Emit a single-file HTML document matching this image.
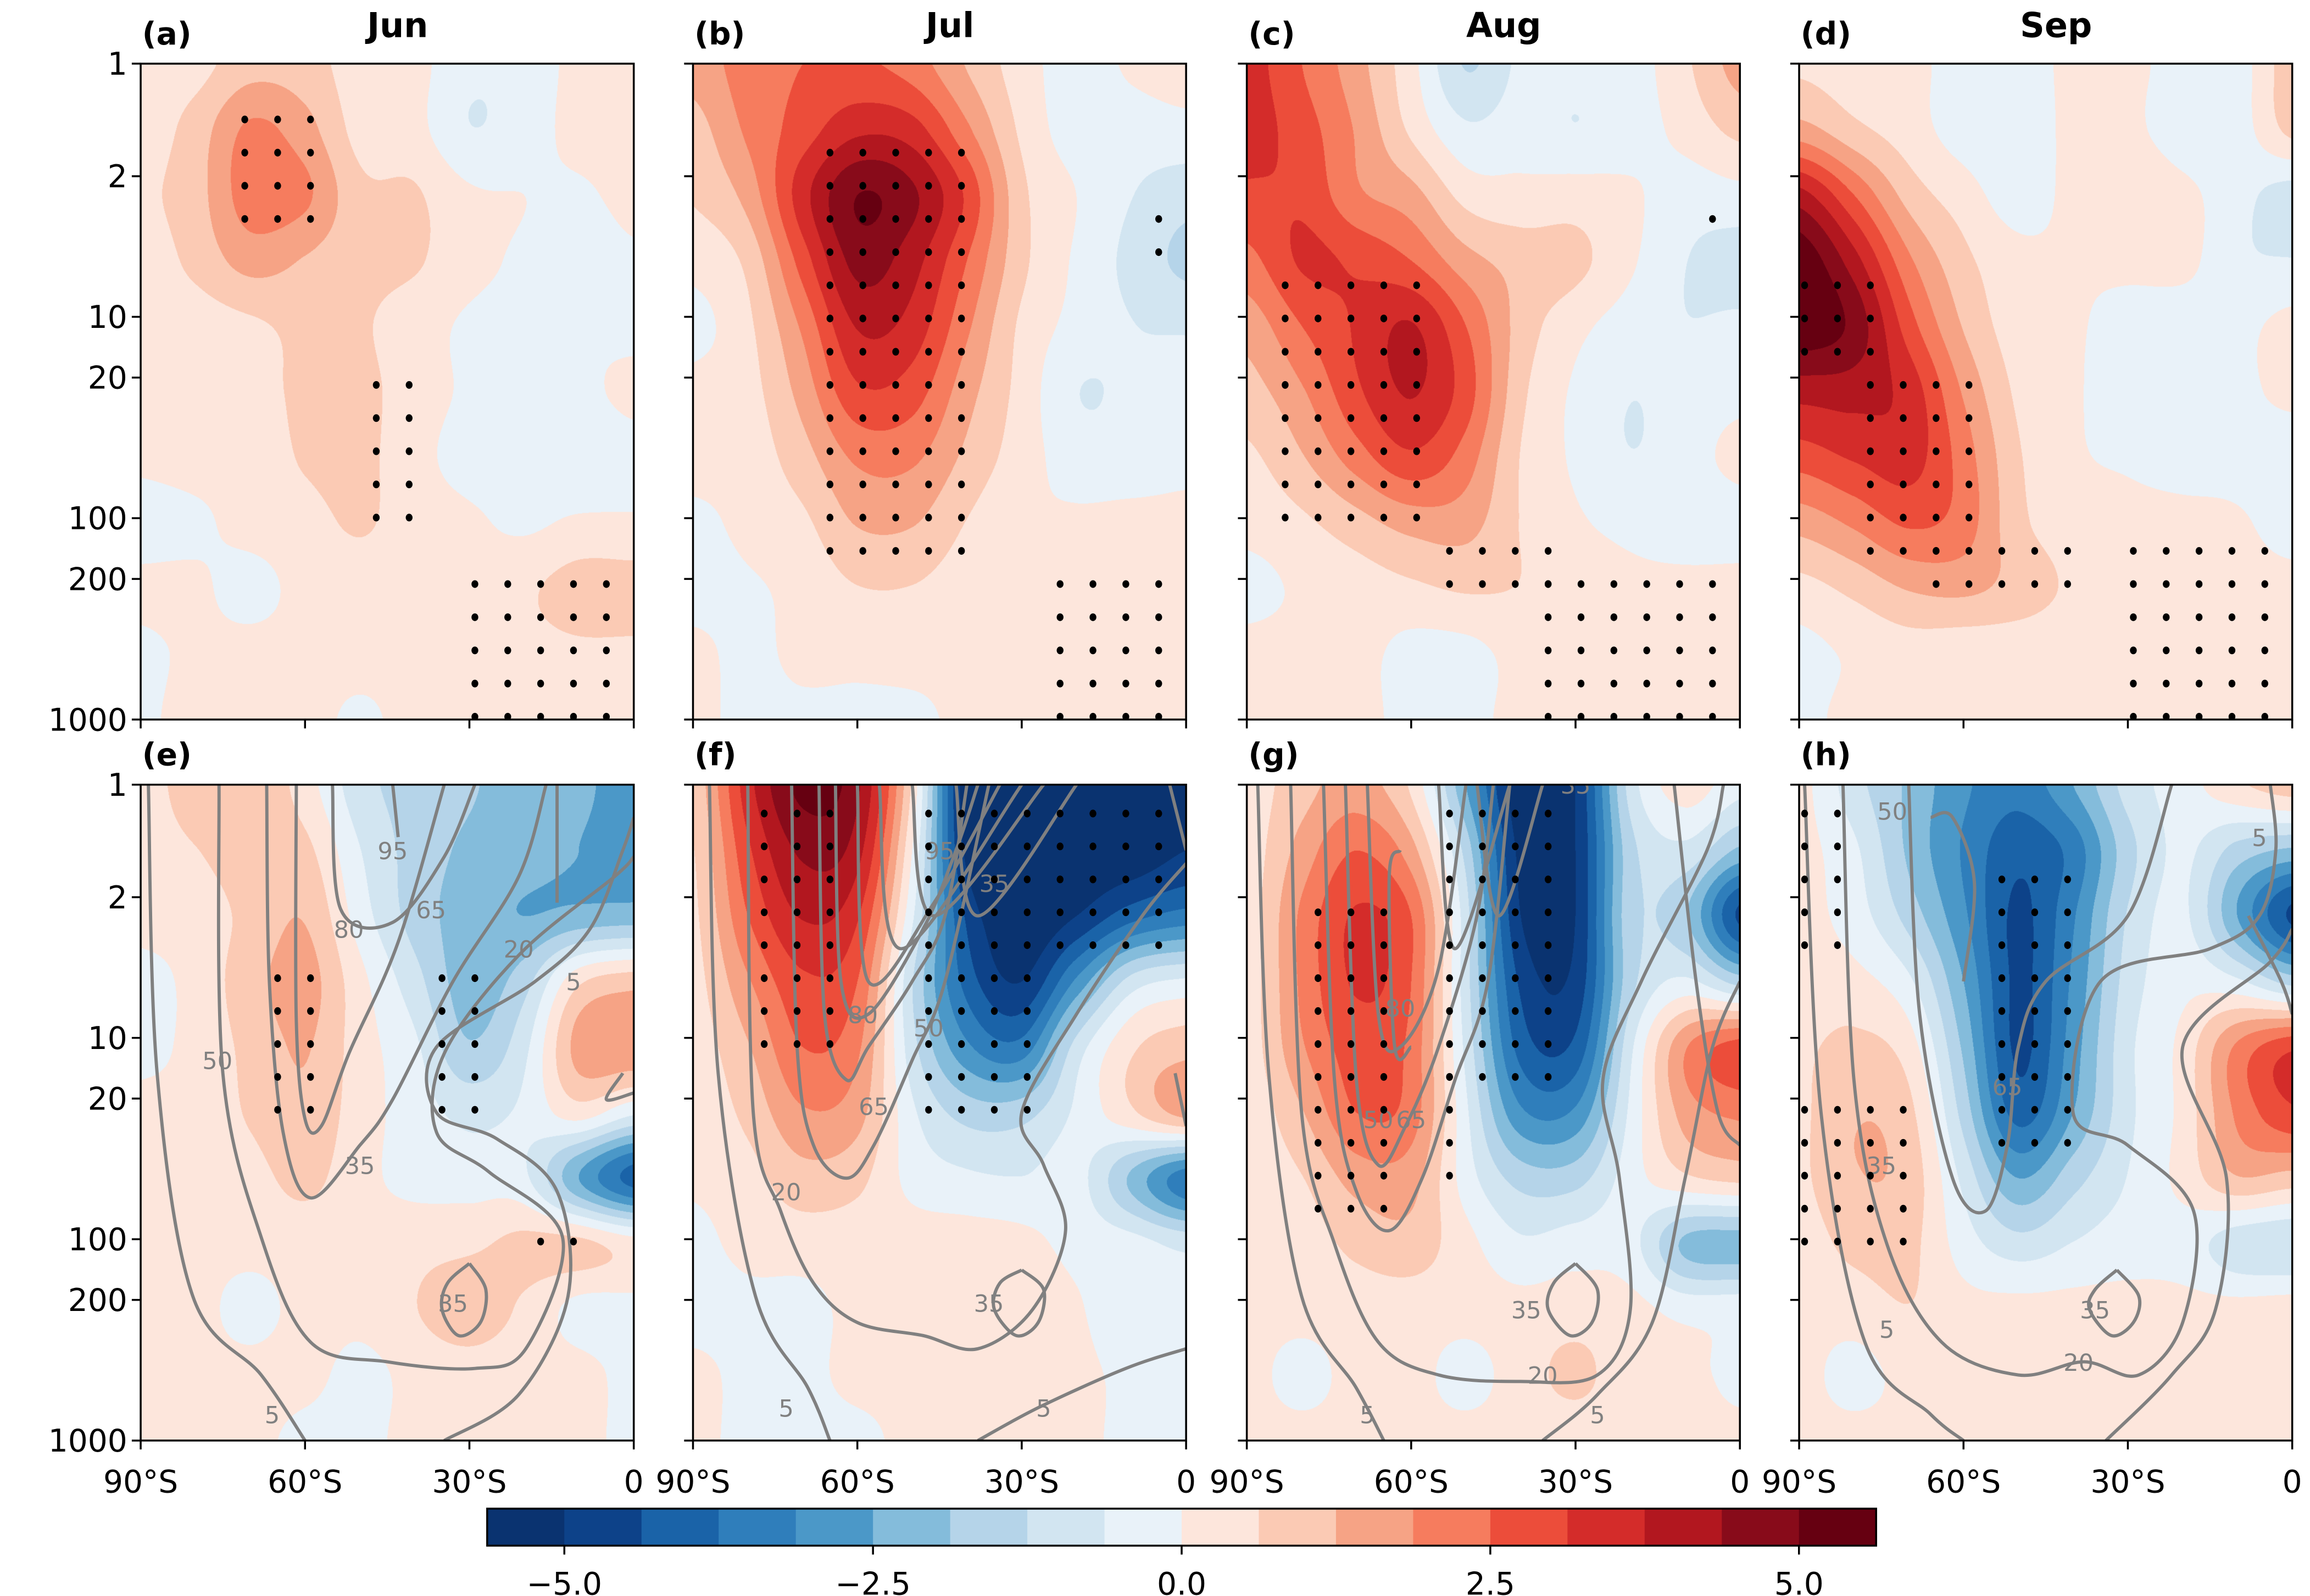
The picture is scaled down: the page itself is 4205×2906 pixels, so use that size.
<!DOCTYPE html>
<html><head><meta charset="utf-8">
<style>
html,body{margin:0;padding:0;background:#fff;overflow:hidden}
#root{position:absolute;left:0;top:0;width:1560px;height:1078px;transform-origin:0 0;transform:scale(2.69551,2.69573);font-family:"DejaVu Sans","Liberation Sans",sans-serif}
canvas{position:absolute}
svg{position:absolute;left:0;top:0}
</style></head>
<body>
<div id="root"></div>
<script>
// ---------- data ----------
const months = ["Jun","Jul","Aug","Sep"];
const panelLetters = ["(a)","(b)","(c)","(d)","(e)","(f)","(g)","(h)"];
const latTicks = [90,60,30,0];
const latTickLabels = ["90°S","60°S","30°S","0"];
const pTicks = [1,2,10,20,100,200,1000];
const cbarTicks = [-5,-2.5,0,2.5,5];
const cbarTickLabels = ["\u22125.0","\u22122.5","0.0","2.5","5.0"];
const levelStep = 0.625;
const colors = ['#0a3370','#0d4289','#1a63a8','#2f7ebb','#4b98c8','#84bcdb','#b5d4e9','#d2e5f1','#e9f2f9','#fde6dc','#fbcab4','#f6a385','#f67c5e','#ec4d3a','#d42c2a','#b2171f','#880b1a','#660011'];
// grids: 11 rows (top->bottom) x 10 cols (90S -> 0)
const gridA = [[0.3,0.4,1.0,0.9,0.3,0.2,-0.5,-0.4,0.2,0.3],[0.3,0.9,2.0,1.5,0.4,0.2,-0.6,-0.3,0.2,0.3],[0.5,1.0,2.2,2.0,0.8,0.7,0.1,0.0,-0.1,0.2],[0.3,0.8,1.5,1.2,0.8,0.7,0.2,-0.1,-0.3,-0.1],[0.3,0.3,0.5,0.8,0.7,0.3,-0.1,-0.2,-0.1,-0.2],[0.2,0.2,0.3,0.8,0.8,0.3,-0.1,-0.3,-0.2,0.2],[0.1,0.2,0.2,0.7,0.8,0.2,-0.2,-0.2,-0.5,-0.3],[-0.2,-0.1,0.2,0.4,0.7,0.3,0.1,-0.1,0.1,0.1],[0.1,0.1,-0.2,0.2,0.3,0.3,0.2,0.5,0.9,0.9],[-0.1,0.1,0.2,0.2,0.2,0.2,0.3,0.4,0.5,0.5],[-0.1,0.2,0.2,0.2,-0.1,0.2,0.2,0.2,0.3,0.3]];
const gridB = [[1.5,2.2,2.5,2.6,2.2,1.2,0.3,-0.3,0.1,0.3],[1.0,2.0,2.8,3.6,3.4,2.0,0.5,-0.3,-0.3,-0.2],[0.7,1.5,3.5,5.0,4.5,3.0,0.8,0.0,-0.6,-1.0],[0.2,0.8,2.8,4.6,4.0,2.5,0.8,-0.1,-0.8,-1.4],[-0.2,0.5,2.0,3.8,3.5,2.0,0.5,-0.2,-0.6,-0.7],[0.2,0.4,1.5,3.0,2.8,1.5,0.4,-0.6,-0.5,-0.3],[0.3,0.3,1.0,2.0,2.0,1.1,0.3,-0.3,-0.4,-0.2],[-0.2,0.2,0.5,1.3,1.3,0.6,0.1,0.1,0.2,0.2],[-0.3,-0.1,0.2,0.6,0.6,0.3,0.2,0.2,0.2,0.3],[0.2,-0.2,0.2,0.2,0.3,0.2,0.2,0.3,0.3,0.3],[0.2,-0.2,-0.2,-0.2,-0.2,0.2,0.2,0.2,0.2,0.2]];
const gridC = [[3.4,2.5,1.5,0.2,-1.3,-0.5,-0.4,-0.3,0.5,1.5],[3.4,2.8,1.8,0.5,-0.5,-0.3,-0.6,-0.3,0.2,0.8],[3.0,3.0,2.0,1.5,0.4,0.2,0.3,0.1,-0.3,-0.2],[2.3,3.2,3.0,2.5,1.5,1.0,0.8,0.1,-0.6,-0.9],[1.5,2.5,3.2,3.8,2.5,1.0,0.2,-0.3,-0.6,-0.5],[1.0,1.8,3.0,3.8,2.8,0.8,-0.1,-0.6,-0.4,-0.2],[0.5,1.2,2.2,3.0,2.2,0.6,-0.1,-0.6,-0.3,0.2],[0.2,0.5,1.0,1.5,1.5,0.6,0.1,-0.2,-0.4,-0.3],[-0.2,0.1,0.3,0.5,0.7,0.6,0.4,0.2,0.2,0.2],[0.2,0.2,0.2,-0.2,-0.2,0.2,0.2,0.2,0.2,0.2],[0.2,0.2,0.2,-0.2,-0.2,0.2,0.2,0.2,0.2,0.2]];
const gridD = [[0.5,0.3,0.2,-0.3,-0.4,0.2,0.2,-0.3,-0.3,1.0],[1.5,0.8,0.3,-0.3,-0.5,0.2,0.2,-0.4,-0.3,0.8],[4.0,2.5,1.0,0.3,-0.3,0.2,0.6,0.2,-0.4,-0.9],[5.5,4.0,2.0,0.8,0.2,0.1,0.2,0.2,-0.5,-0.6],[5.5,4.8,2.8,1.2,0.3,0.1,-0.3,-0.4,-0.2,0.2],[4.0,4.0,3.5,1.8,0.5,0.1,-0.4,-0.4,-0.2,0.2],[2.8,3.2,3.4,2.2,0.7,0.1,-0.1,-0.3,-0.3,-0.5],[1.5,2.0,2.6,2.2,0.8,0.3,0.2,0.2,0.1,-0.3],[0.4,0.8,1.3,1.4,1.0,0.5,0.2,0.2,0.2,0.2],[-0.2,0.1,0.3,0.2,0.2,0.2,0.2,0.2,0.2,0.2],[-0.2,0.2,0.2,0.2,0.2,0.2,0.2,0.2,0.2,0.2]];
const gridE = [[0.3,1.0,1.2,0.3,-1.0,-1.5,-1.8,-2.2,-2.3,-3.0],[0.3,0.6,1.0,0.8,-0.6,-1.5,-2.0,-2.2,-2.5,-2.8],[0.2,0.3,0.8,1.2,-0.3,-1.5,-2.2,-2.5,-2.3,-2.2],[-0.2,0.2,1.0,1.5,0.2,-1.0,-2.2,-1.5,0.5,1.0],[-0.2,0.2,0.8,1.3,0.3,-0.5,-1.8,-0.8,1.5,1.8],[0.2,0.2,0.7,1.1,0.3,-0.3,-0.8,-0.5,0.3,-0.5],[0.2,0.2,0.4,0.8,0.2,-0.2,-0.3,-0.5,-2.5,-4.0],[0.3,0.2,0.2,0.3,0.2,0.4,0.5,0.8,0.8,0.3],[0.3,0.2,-0.2,0.2,0.2,0.6,1.0,0.5,-0.2,-0.2],[0.2,0.2,0.2,0.2,-0.2,0.2,0.3,0.2,0.2,-0.2],[0.2,0.2,0.2,-0.2,-0.2,0.2,0.2,0.2,0.2,-0.2]];
const gridF = [[0.8,3.5,5.2,4.5,0.5,-5.5,-5.5,-5.5,-5.5,-5.0],[0.6,3.0,4.5,4.0,0.0,-5.2,-5.5,-5.5,-5.5,-5.0],[0.5,2.5,3.8,3.2,-0.5,-4.5,-5.5,-5.0,-4.0,-3.5],[0.4,1.8,3.0,2.5,-1.2,-4.0,-5.0,-3.0,-1.0,-0.5],[0.3,1.2,2.5,2.0,-1.0,-3.0,-3.5,-1.0,0.5,1.0],[0.2,0.8,1.8,1.5,-0.5,-1.5,-1.5,-0.5,0.5,1.5],[0.1,0.4,1.0,0.8,-0.2,-0.5,-0.6,-0.4,-2.0,-3.5],[-0.2,0.2,0.3,0.3,0.3,0.3,0.2,-0.2,-0.4,-0.8],[-0.3,-0.2,-0.2,0.2,0.4,0.6,0.5,0.1,-0.6,-0.4],[0.2,-0.2,-0.2,0.2,0.2,0.2,0.2,0.2,-0.2,-0.2],[0.2,-0.2,-0.2,-0.2,0.2,0.2,0.2,0.2,-0.2,-0.2]];
const gridG = [[0.3,1.0,1.5,0.5,-2.5,-5.5,-5.0,-1.0,0.3,-0.4],[0.3,1.5,2.5,1.5,-1.5,-5.2,-5.0,-1.5,-0.8,-2.0],[0.3,2.0,3.2,2.5,-1.0,-5.0,-5.0,-1.5,-1.8,-4.5],[0.3,2.0,3.2,2.5,-1.0,-4.5,-4.8,-1.5,-0.5,-1.5],[0.3,1.8,2.8,2.3,-0.8,-4.0,-4.2,-0.8,1.8,2.8],[0.2,1.2,2.5,2.2,-0.5,-3.0,-3.0,-0.5,1.5,2.0],[0.2,0.6,1.5,1.5,-0.3,-1.5,-1.5,-0.3,0.5,0.8],[0.2,0.3,0.8,1.0,0.2,-0.5,-0.3,-0.4,-2.0,-2.2],[0.2,0.2,0.3,0.3,0.2,0.2,0.3,0.2,-0.2,-0.2],[0.2,-0.2,0.2,0.2,-0.2,0.3,0.8,0.2,0.2,-0.2],[0.2,0.2,0.2,0.2,0.2,0.2,0.2,0.2,0.2,0.2]];
const gridH = [[0.2,-1.0,-2.0,-3.0,-3.5,-2.5,-1.0,-0.3,0.5,1.0],[0.2,-0.5,-2.0,-3.2,-4.2,-3.5,-1.5,-0.5,-1.5,-2.0],[0.2,-0.3,-1.5,-3.0,-4.5,-3.2,-1.2,-0.5,-2.5,-4.5],[0.2,0.2,-0.5,-2.5,-4.5,-3.0,-1.0,-0.2,-0.5,-1.5],[0.5,0.8,0.3,-2.0,-4.5,-2.8,-0.8,0.2,2.0,3.0],[0.5,1.2,0.8,-1.5,-4.0,-2.5,-0.8,0.2,2.0,3.0],[0.5,1.2,1.0,-0.8,-2.5,-1.5,-0.6,0.2,1.2,1.0],[0.3,0.8,0.8,-0.3,-1.0,-0.6,-0.3,-0.3,-1.0,-1.2],[0.2,0.3,0.6,0.2,0.2,0.2,0.2,0.2,0.2,0.3],[0.2,-0.2,0.2,0.2,0.2,0.2,0.2,0.3,0.2,0.2],[0.2,0.2,0.2,0.2,0.2,0.2,0.2,0.2,0.2,0.2]];
const grids = [gridA,gridB,gridC,gridD,gridE,gridF,gridG,gridH];
// significance regions [latMax, latMin, fracTop, fracBottom]
const sigA = [[72,54,0.07,0.25],[50,40,0.45,0.72],[30,2,0.77,1.0]];
const sigB = [[65,40,0.13,0.75],[10,0,0.22,0.3],[25,0,0.77,1.0]];
const sigC = [[86,54,0.3,0.72],[58,30,0.72,0.8],[35,0,0.8,1.0],[8,0,0.22,0.26]];
const sigD = [[90,72,0.3,0.45],[78,55,0.45,0.75],[65,40,0.75,0.8],[30,0,0.75,1.0]];
const sigE = [[67,55,0.3,0.5],[38,28,0.3,0.5],[22,10,0.66,0.71]];
const sigF = [[78,62,0.03,0.42],[48,0,0.03,0.27],[48,28,0.27,0.5]];
const sigG = [[80,64,0.19,0.65],[58,30,0.03,0.45],[58,48,0.45,0.6]];
const sigH = [[90,82,0.03,0.25],[56,40,0.15,0.55],[90,70,0.5,0.7]];
const sigs = [sigA,sigB,sigC,sigD,sigE,sigF,sigG,sigH];
// zonal wind contours (bottom row): [lat, frac] polylines
const contE = [[[88.6,0],[87,0.44],[80.5,0.78],[68,0.9],[60,1.0]],[[34.6,1],[21,0.93],[12,0.78],[14,0.62],[25,0.54],[36,0.5],[36,0.4],[18,0.3],[8,0.22],[2,0.1],[0,0.05]],[[75.7,0],[75,0.44],[68,0.69],[59,0.85],[45,0.88],[29,0.89],[19.7,0.86],[13,0.69],[26.5,0.59],[36,0.53],[34.6,0.41],[21,0.26],[3.5,0.14],[0,0.11]],[[67,0],[66.5,0.3],[64,0.53],[59,0.63],[50,0.55],[44,0.48],[33,0.3],[21,0.14],[16,0]],[[61.6,0],[61.6,0.36],[60,0.51],[57,0.52],[52,0.41],[43,0.24],[34.6,0]],[[55,0],[53.5,0.19],[44,0.21],[34.6,0.11],[29,0]],[[44,0],[43,0.08]],[[14,0],[14,0.18]],[[30,0.73],[34,0.76],[35,0.8],[32,0.84],[28,0.82],[27,0.77],[30,0.73]],[[0,0.47],[5,0.48],[2,0.44]]];
const contF = [[[87,0],[85.4,0.44],[78.6,0.78],[69,0.92],[65,1]],[[38,1],[27,0.95],[11,0.89],[0,0.86]],[[80,0],[79,0.5],[74,0.65],[68,0.76],[60,0.82],[48,0.84],[38,0.86],[28,0.8],[22,0.68],[26,0.58],[30,0.5],[20,0.35],[8,0.2],[0,0.12]],[[72,0],[71,0.4],[68,0.55],[62,0.6],[57,0.55],[50,0.42],[44,0.3],[36,0]],[[67,0],[66,0.35],[62,0.45],[58,0.4],[50,0.3],[44,0.2],[40,0]],[[64,0],[63,0.3],[58,0.35],[48,0.22],[42,0.1],[38,0]],[[60,0],[58,0.3],[46,0.18],[34,0]],[[56,0],[52,0.25],[30,0]],[[50,0],[46,0.2],[26,0]],[[42,0],[38,0.2],[20,0]],[[30,0.74],[34,0.76],[35,0.8],[31,0.84],[27,0.82],[26,0.77],[30,0.74]],[[3,0],[0,0.1]],[[2,0.44],[0,0.52]]];
const contG = [[[88,0],[86,0.44],[80,0.78],[70,0.92],[65,1]],[[36,1],[26,0.93],[16,0.82],[10,0.6],[5,0.4],[0,0.3]],[[82,0],[80,0.5],[74,0.7],[66,0.85],[55,0.9],[40,0.91],[26,0.9],[20,0.8],[22,0.6],[25,0.45],[18,0.3],[6,0.1],[3,0]],[[76,0],[74,0.45],[70,0.62],[64,0.68],[58,0.6],[52,0.45],[46,0.3],[42,0]],[[72,0],[70,0.45],[66,0.58],[61,0.52],[55,0.4],[48,0.2],[45,0]],[[68,0],[66,0.35],[62,0.4],[55,0.28],[50,0]],[[62,0.1],[64,0.14],[63,0.4],[60,0.4]],[[55,0],[52,0.25],[42,0]],[[48,0],[44,0.2],[36,0]],[[30,0.73],[34,0.76],[35,0.8],[31,0.84],[27,0.82],[26,0.77],[30,0.73]],[[12,0],[8,0.3],[4,0.5],[0,0.55]]];
const contH = [[[89,0],[86,0.5],[78,0.85],[66,0.96],[60,1]],[[34,1],[22,0.9],[14,0.8],[12,0.6],[20,0.4],[4,0.27],[0,0.22]],[[82,0],[80,0.45],[74,0.7],[64,0.85],[50,0.9],[38,0.88],[28,0.9],[20,0.82],[18,0.65],[30,0.55],[40,0.5],[35,0.3],[15,0.25],[6,0.2],[3,0.1],[4,0]],[[70,0],[68,0.35],[62,0.6],[56,0.65],[52,0.55],[50,0.4],[45,0.3],[30,0.2],[22,0]],[[66,0.05],[62,0.05],[58,0.15],[60,0.3]],[[32,0.74],[36,0.77],[37,0.8],[33,0.84],[29,0.82],[28,0.78],[32,0.74]],[[8,0.2],[2,0.3],[0,0.35]]];
const conts = [contE,contF,contG,contH];
const labE = [["95",44,0.1],["80",52,0.22],["65",37,0.19],["20",21,0.25],["5",11,0.3],["50",76,0.42],["35",50,0.58],["35",33,0.79],["5",66,0.96]];
const labF = [["95",45,0.1],["35",35,0.15],["80",59,0.35],["50",47,0.37],["65",57,0.49],["20",73,0.62],["35",36,0.79],["5",73,0.95],["5",26,0.95]];
const labG = [["35",30,0.0],["80",62,0.34],["50",66,0.51],["65",60,0.51],["35",39,0.8],["20",36,0.9],["5",68,0.96],["5",26,0.96]];
const labH = [["50",73,0.04],["5",6,0.08],["65",52,0.46],["35",75,0.58],["35",36,0.8],["20",39,0.88],["5",74,0.83]];
const labs = [labE,labF,labG,labH];

// ---------- layout & axes ----------
const S = 4205/1560;
const panelX = [95,468,842,1215], panelW = 333, panelY = [43,530], panelH = 443;
const pAnchors = [[1,0],[2,0.1716],[10,0.386],[20,0.4786],[100,0.693],[200,0.7856],[1000,1]];
function pFrac(p){const lp=Math.log10(p);for(let i=0;i<pAnchors.length-1;i++){const a=pAnchors[i],b=pAnchors[i+1];if(p<=b[0]){return a[1]+(lp-Math.log10(a[0]))/(Math.log10(b[0])-Math.log10(a[0]))*(b[1]-a[1]);}}return 1;}
function xOf(k,lat){return panelX[k]+(90-lat)/90*panelW;}
function yOf(r,f){return panelY[r]+f*panelH;}
function colorIdx(v){let i=Math.floor((v+levelStep*9)/levelStep);return Math.max(0,Math.min(17,i));}
function hex2rgb(h){return [parseInt(h.substr(1,2),16),parseInt(h.substr(3,2),16),parseInt(h.substr(5,2),16)];}
const rgbs = colors.map(hex2rgb);
function cr(p0,p1,p2,p3,t){return p1+0.5*t*(p2-p0+t*(2*p0-5*p1+4*p2-p3+t*(3*(p1-p2)+p3-p0)));}

const root = document.getElementById('root');
for(let p=0;p<8;p++){
  const k=p%4, r=Math.floor(p/4), g=grids[p];
  const cv=document.createElement('canvas');
  
  
  const W=Math.round(panelW*S), H=Math.round(panelH*S);
  cv.width=W; cv.height=H;
  cv.style.left=panelX[k]+'px'; cv.style.top=panelY[r]+'px';
  cv.style.width=panelW+'px'; cv.style.height=panelH+'px';
  const ctx=cv.getContext('2d'); const im=ctx.createImageData(W,H); const d=im.data;
  const nr=g.length-1, nc=g[0].length-1;
  const G=(i,j)=>g[Math.max(0,Math.min(nr,i))][Math.max(0,Math.min(nc,j))];
  for(let y=0;y<H;y++){
    const fy=y/(H-1)*nr, i0=Math.min(nr-1,Math.floor(fy)), ty=fy-i0;
    for(let x=0;x<W;x++){
      const fx=x/(W-1)*nc, j0=Math.min(nc-1,Math.floor(fx)), tx=fx-j0;
      const rows=[];
      for(let di=-1;di<=2;di++){rows.push(cr(G(i0+di,j0-1),G(i0+di,j0),G(i0+di,j0+1),G(i0+di,j0+2),tx));}
      const v=cr(rows[0],rows[1],rows[2],rows[3],ty);
      const c=rgbs[colorIdx(v)]; const o=(y*W+x)*4;
      d[o]=c[0];d[o+1]=c[1];d[o+2]=c[2];d[o+3]=255;
    }
  }
  ctx.putImageData(im,0,0);
  root.appendChild(cv);
}
const NS='http://www.w3.org/2000/svg';
const svg=document.createElementNS(NS,'svg');
svg.setAttribute('width','1560');svg.setAttribute('height','1078');


root.appendChild(svg);
function el(tag,attrs,parent){const e=document.createElementNS(NS,tag);for(const a in attrs)e.setAttribute(a,attrs[a]);(parent||svg).appendChild(e);return e;}
function txt(s,attrs,parent){const e=el('text',attrs,parent);e.textContent=s;return e;}
function smoothPath(pts){let d='M'+pts[0][0].toFixed(1)+','+pts[0][1].toFixed(1);for(let i=0;i<pts.length-1;i++){const p0=pts[Math.max(0,i-1)],p1=pts[i],p2=pts[i+1],p3=pts[Math.min(pts.length-1,i+2)];const c1=[p1[0]+(p2[0]-p0[0])/6,p1[1]+(p2[1]-p0[1])/6],c2=[p2[0]-(p3[0]-p1[0])/6,p2[1]-(p3[1]-p1[1])/6];d+='C'+c1[0].toFixed(1)+','+c1[1].toFixed(1)+' '+c2[0].toFixed(1)+','+c2[1].toFixed(1)+' '+p2[0].toFixed(1)+','+p2[1].toFixed(1);}return d;}

for(let p=0;p<8;p++){
  const k=p%4, r=Math.floor(p/4);
  const grp=el('g',{});
  
  
  const cp=el('clipPath',{id:'clip'+p},grp);
  el('rect',{x:panelX[k],y:panelY[r],width:panelW,height:panelH},cp);
  if(r===1){
    const cg=el('g',{'clip-path':'url(#clip'+p+')'},grp);
    conts[k].forEach((line,i)=>{
      const pts=line.map(q=>[xOf(k,q[0]),yOf(r,q[1])]);
      const path=el('path',{d:smoothPath(pts),fill:'none',stroke:'#808080','stroke-width':2.2},cg);
      
      
    });
    labs[k].forEach(l=>{
      const t=txt(l[0],{x:xOf(k,l[1]),y:yOf(r,l[2])+6,'font-size':16,fill:'#808080','text-anchor':'middle'},cg);
      
      
    });
  }
  const dg=el('g',{'clip-path':'url(#clip'+p+')'},grp);
  const f0=r===0?0.085:0.044, fs=r===0?0.0506:0.0502;
  sigs[p].forEach(rc=>{
    for(let lat=89;lat>=-1;lat-=6){
      if(lat>rc[0]+0.5||lat<rc[1]-0.5)continue;
      for(let f=f0;f<=1.01;f+=fs){
        if(f<rc[2]-0.01||f>rc[3]+0.01)continue;
        const dot=el('ellipse',{cx:xOf(k,lat).toFixed(1),cy:yOf(r,f).toFixed(1),rx:2.3,ry:2.6,fill:'#000'},dg);
        
        
      }
    }
  });
  el('rect',{x:panelX[k],y:panelY[r],width:panelW,height:panelH,fill:'none',stroke:'#000','stroke-width':1.3},grp);
  pTicks.forEach((pv,i)=>{
    const y=yOf(r,pFrac(pv));
    el('line',{x1:panelX[k]-6,x2:panelX[k],y1:y,y2:y,stroke:'#000','stroke-width':1.3},grp);
    if(k===0){const t=txt(String(pv),{x:panelX[k]-9,y:y+7.5,'font-size':21,'text-anchor':'end',fill:'#000'},grp);
      
      }
  });
  latTicks.forEach((lt,i)=>{
    const x=xOf(k,lt), yb=panelY[r]+panelH;
    el('line',{x1:x,x2:x,y1:yb,y2:yb+6,stroke:'#000','stroke-width':1.3},grp);
    if(r===1){const t=txt(latTickLabels[i],{x:x,y:yb+35,'font-size':21,'text-anchor':'middle',fill:'#000'},grp);
      
      }
  });
  const lt=txt(panelLetters[p],{x:panelX[k]+1,y:panelY[r]-13,'font-size':21,'font-weight':'bold',fill:'#000'},grp);
  
  
  if(r===0){const tt=txt(months[k],{x:panelX[k]+panelW/2+7,y:25,'font-size':23,'font-weight':'bold','text-anchor':'middle',fill:'#000'},grp);
    
    }
}
const cbX0=329, cbX1=1267, cbY=1019, cbH=25;
const vmin=-levelStep*9, vmax=levelStep*9;
function cbx(v){return cbX0+(v-vmin)/(vmax-vmin)*(cbX1-cbX0);}
const cbg=el('g',{});


colors.forEach((c,i)=>{
  const x0=cbx(vmin+i*levelStep), x1=cbx(vmin+(i+1)*levelStep);
  const rr=el('rect',{x:x0,y:cbY,width:x1-x0+0.5,height:cbH,fill:c},cbg);
  
  
});
el('rect',{x:cbX0,y:cbY,width:cbX1-cbX0,height:cbH,fill:'none',stroke:'#000','stroke-width':1.3},cbg);
cbarTicks.forEach((v,i)=>{
  const x=cbx(v);
  el('line',{x1:x,x2:x,y1:cbY+cbH,y2:cbY+cbH+6,stroke:'#000','stroke-width':1.3},cbg);
  const t=txt(cbarTickLabels[i],{x:x,y:1077,'font-size':21,'text-anchor':'middle',fill:'#000'},cbg);
  
  
});
</script>
</body></html>
